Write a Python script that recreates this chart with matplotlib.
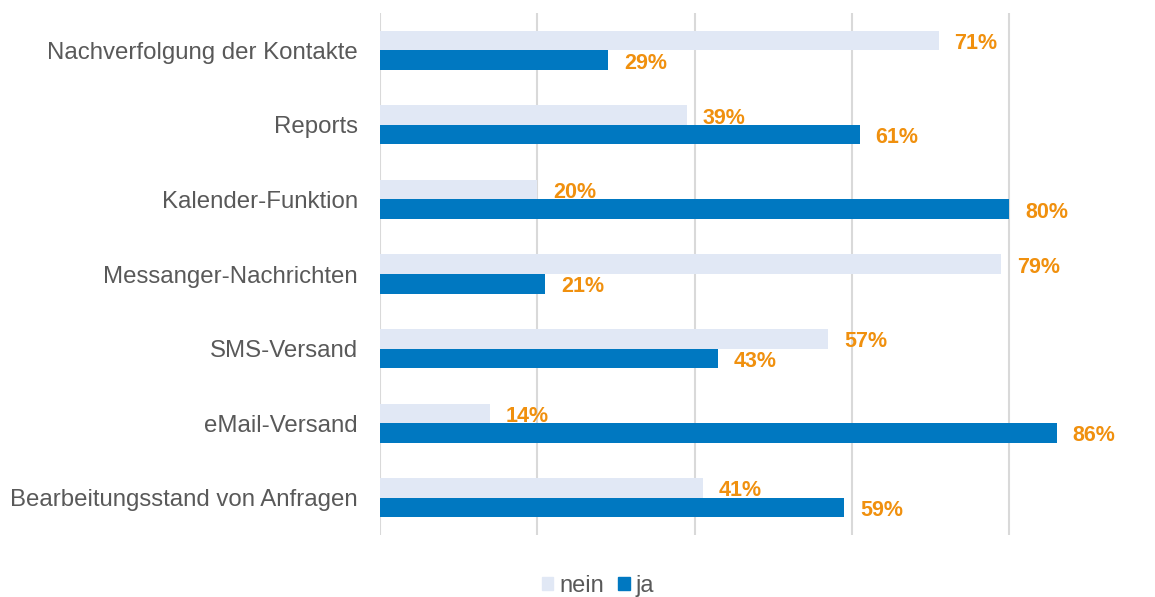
import numpy as np
import matplotlib.pyplot as plt
from matplotlib.patches import Patch

plt.rcParams['font.family'] = ['Liberation Sans', 'DejaVu Sans']

categories = ['Nachverfolgung der Kontakte', 'Reports', 'Kalender-Funktion',
              'Messanger-Nachrichten', 'SMS-Versand', 'eMail-Versand',
              'Bearbeitungsstand von Anfragen']
nein = [0.71, 0.39, 0.20, 0.79, 0.57, 0.14, 0.41]
ja = [0.29, 0.61, 0.80, 0.21, 0.43, 0.86, 0.59]

c_nein = '#e1e8f5'
c_ja = '#0078c1'
c_label = '#f0900e'

fig = plt.figure(figsize=(11.55, 5.97), dpi=100)
ax = fig.add_axes([380 / 1155, 1 - 535 / 597, (1088 - 380) / 1155, 522 / 597])

# first category on top
y = np.arange(len(categories))[::-1]
h = 0.262

ax.barh(y + h / 2, nein, height=h, color=c_nein, label='nein', zorder=2)
ax.barh(y - h / 2, ja, height=h, color=c_ja, label='ja', zorder=2)

for yi, v in zip(y, nein):
    ax.text(v + 0.02, yi + h / 2 - 0.04, f'{v * 100:.0f}%', color=c_label,
            fontsize=15.5, fontweight='bold', va='center', ha='left')
for yi, v in zip(y, ja):
    ax.text(v + 0.02, yi - h / 2 - 0.04, f'{v * 100:.0f}%', color=c_label,
            fontsize=15.5, fontweight='bold', va='center', ha='left')

ax.set_xlim(0, 0.9)
ax.set_ylim(-0.5, len(categories) - 0.5)
ax.set_xticks([0, 0.2, 0.4, 0.6, 0.8])
ax.set_xticklabels([])
ax.set_yticks(y)
ax.set_yticklabels(categories, fontsize=17.3, color='#595959')
ax.tick_params(axis='both', length=0)
ax.tick_params(axis='y', pad=16)
ax.grid(axis='x', color='#d9d9d9', linewidth=1.5, zorder=0)
for s in ax.spines.values():
    s.set_visible(False)

handles = [Patch(color=c_nein, label='nein'), Patch(color=c_ja, label='ja')]
fig.legend(handles=handles, loc='center', bbox_to_anchor=(598 / 1155, 1 - 586 / 597),
           ncol=2, frameon=False, fontsize=17, handlelength=0.5, handleheight=0.5,
           handletextpad=0.25, columnspacing=0.6, labelcolor='#595959')

fig.savefig('out.png', dpi=100)
